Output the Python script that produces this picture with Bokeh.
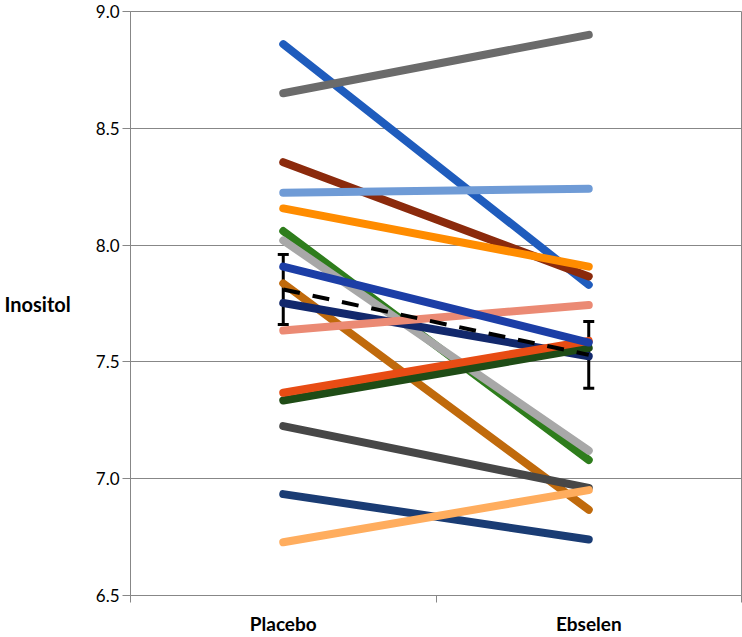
from bokeh.plotting import figure
from bokeh.models import FixedTicker, Range1d, Whisker, ColumnDataSource, Label, TeeHead, NumeralTickFormatter
from bokeh.embed import file_html
from bokeh.resources import INLINE

categories = ["Placebo", "Ebselen"]

# Individual subject values (Inositol)
placebo = [8.86, 8.355, 8.157, 8.224, 8.65, 8.06, 8.02, 7.836, 7.752, 7.634,
           7.335, 7.368, 7.908, 7.225, 6.934, 6.728]
ebselen = [7.83, 7.866, 7.908, 8.241, 8.90, 7.08, 7.12, 6.867, 7.524, 7.744,
           7.56, 7.59, 7.583, 6.96, 6.74, 6.951]
line_colors = ["#1f5cbd", "#8b2a0c", "#ff8c00", "#6f9bd6", "#6b6b6b", "#2e7d1c",
               "#a8a8a8", "#c06a0c", "#12286c", "#eb8a74", "#1f4c16", "#e84c14",
               "#1c3ea6", "#474747", "#1a3c74", "#ffad5e"]

mean_values = [7.81, 7.53]
sem_values = [0.15, 0.143]
y_ticks = [6.5, 7.0, 7.5, 8.0, 8.5, 9.0]
y_title = "Inositol"

xs = [i + 0.5 for i in range(len(categories))]
grid_gray = "#878787"

p = figure(width=742, height=637, output_backend="svg", toolbar_location=None,
           x_range=Range1d(0, len(categories)), y_range=Range1d(y_ticks[0], y_ticks[-1]),
           min_border_left=130, min_border_right=1, min_border_top=11, min_border_bottom=30)
p.outline_line_color = grid_gray
p.outline_line_width = 1

for pl, eb, c in zip(placebo, ebselen, line_colors):
    p.line(xs, [pl, eb], line_color=c, line_width=8, line_cap="round")

# mean line
p.line(xs, mean_values, line_color="black", line_width=4, line_dash="17 13")

src = ColumnDataSource(dict(x=xs,
                            lower=[m - s for m, s in zip(mean_values, sem_values)],
                            upper=[m + s for m, s in zip(mean_values, sem_values)]))
w = Whisker(source=src, base="x", lower="lower", upper="upper", dimension="height",
            line_color="black", line_width=3,
            upper_head=TeeHead(size=11, line_width=3, line_color="black"),
            lower_head=TeeHead(size=11, line_width=3, line_color="black"))
p.add_layout(w)

# axes
p.xgrid.visible = False
p.ygrid.ticker = FixedTicker(ticks=y_ticks)
p.ygrid.grid_line_color = grid_gray
p.ygrid.grid_line_width = 1

p.yaxis.ticker = FixedTicker(ticks=y_ticks)
p.yaxis.formatter = NumeralTickFormatter(format="0.0")
p.yaxis.axis_line_color = grid_gray
p.yaxis.major_tick_line_color = grid_gray
p.yaxis.major_tick_out = 8
p.yaxis.major_tick_in = 0
p.yaxis.minor_tick_line_color = None
p.yaxis.major_label_text_font = "Lato"
p.yaxis.major_label_text_font_size = "17px"
p.yaxis.major_label_text_color = "black"
p.yaxis.major_label_standoff = 3

yax = p.yaxis[0]
if "axis_label_orientation" in yax.properties():
    yax.axis_label = y_title
    yax.axis_label_orientation = "horizontal"
    yax.axis_label_text_font = "Lato"
    yax.axis_label_text_font_style = "bold"
    yax.axis_label_text_font_size = "20px"
    yax.axis_label_text_color = "black"
    yax.axis_label_standoff = 22
else:
    ylab = Label(x=-130, y=296, x_units="screen", y_units="screen", text=y_title,
                 text_font="Lato", text_font_style="bold", text_font_size="20px",
                 text_color="black", text_baseline="middle", text_align="left")
    p.add_layout(ylab)

p.xaxis.ticker = FixedTicker(ticks=xs, minor_ticks=[float(i) for i in range(len(categories) + 1)])
p.xaxis.major_label_overrides = {x: c for x, c in zip(xs, categories)}
p.xaxis.axis_line_color = grid_gray
p.xaxis.major_tick_line_color = None
p.xaxis.major_tick_out = 0
p.xaxis.major_tick_in = 0
p.xaxis.minor_tick_line_color = grid_gray
p.xaxis.minor_tick_out = 7
p.xaxis.minor_tick_in = 0
p.xaxis.major_label_text_font = "Lato"
p.xaxis.major_label_text_font_style = "bold"
p.xaxis.major_label_text_font_size = "19px"
p.xaxis.major_label_text_color = "black"
p.xaxis.major_label_standoff = 9

open("out.html", "w").write(file_html(p, INLINE))
